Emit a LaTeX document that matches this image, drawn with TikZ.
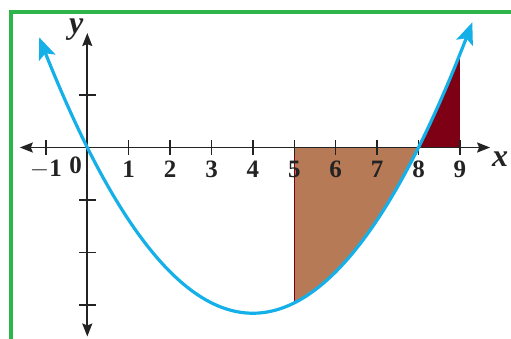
\documentclass[tikz,border=0pt]{standalone}
\usepackage{fontspec}
\setmainfont{Liberation Serif}
\usetikzlibrary{arrows.meta}
\definecolor{frameGreen}{RGB}{45,180,75}
\definecolor{curveBlue}{RGB}{22,176,232}
\definecolor{areaBrown}{RGB}{183,122,86}
\definecolor{areaRed}{RGB}{125,0,20}
\definecolor{inkBlack}{RGB}{35,35,35}
\tikzset{
  axisline/.style={line width=1.8pt, inkBlack, -{Stealth[length=13pt,width=10pt,inset=2pt]}},
  tickmark/.style={line width=1.5pt, inkBlack},
  ticklabel/.style={font=\fontsize{25}{25}\selectfont\bfseries, inner sep=0pt, text=inkBlack},
  axislabel/.style={font=\fontsize{32}{32}\selectfont\bfseries\itshape, inner sep=0pt, text=inkBlack},
  blueTip/.style={line width=3.2pt, curveBlue, {Stealth[length=22pt,width=18pt,inset=5pt,line width=0pt]}-{Stealth[length=22pt,width=18pt,inset=5pt,line width=0pt]}},
}
\begin{document}
\begin{tikzpicture}[x=1pt,y=1pt]
\useasboundingbox (0,-338) rectangle (511,0);
\fill[white] (0,-338) rectangle (511,0);
% frame
\draw[frameGreen, line width=4.5pt] (11,-345) -- (11,-12) -- (520,-12);
\begin{scope}[shift={(87.3,-147.5)}, x=41.4pt, y=52.5pt]
  % shaded areas
  \fill[areaBrown] (5,0) -- plot[domain=5:8, samples=40] (\x, {0.1973*\x*(\x-8)}) -- cycle;
  \fill[areaRed] (8,0) -- plot[domain=8:9, samples=20] (\x, {0.1973*\x*(\x-8)}) -- (9,0) -- cycle;
  \draw[areaRed, line width=1.5pt] (5,0) -- (5,{0.1973*5*(5-8)});
  % axes
  \coordinate (xl) at (-1.63,0);
  \coordinate (xr) at (9.73,0);
  \coordinate (yt) at (0,2.18);
  \coordinate (yb) at (0,-3.6);
  \draw[axisline] (0,0) -- (xr);
  \draw[axisline] (0,0) -- (xl);
  \draw[axisline] (0,0) -- (yt);
  \draw[axisline] (0,0) -- (yb);
  \foreach \t in {-1,1,2,...,9} \draw[tickmark] (\t,-0.14) -- (\t,0.14);
  \foreach \t in {1,-1,-2,-3} \draw[tickmark] (-0.2,\t) -- (0.2,\t);
  % tick labels
  \node[ticklabel] (lm1) at (-1.0,-0.42) {$-$1};
  \node[ticklabel] (l0) at (-0.28,-0.33) {0};
  \foreach \t in {1,...,9} \node[ticklabel] (l\t) at (\t,-0.42) {\t};
  \node[axislabel] (xlab) at (9.97,-0.22) {x};
  \node[axislabel] (ylab) at (-0.27,2.25) {y};
  % curve
  \draw[blueTip] plot[domain=-1.16:9.3, samples=120, smooth] (\x, {0.1973*\x*(\x-8)});
\end{scope}
\end{tikzpicture}
\end{document}
